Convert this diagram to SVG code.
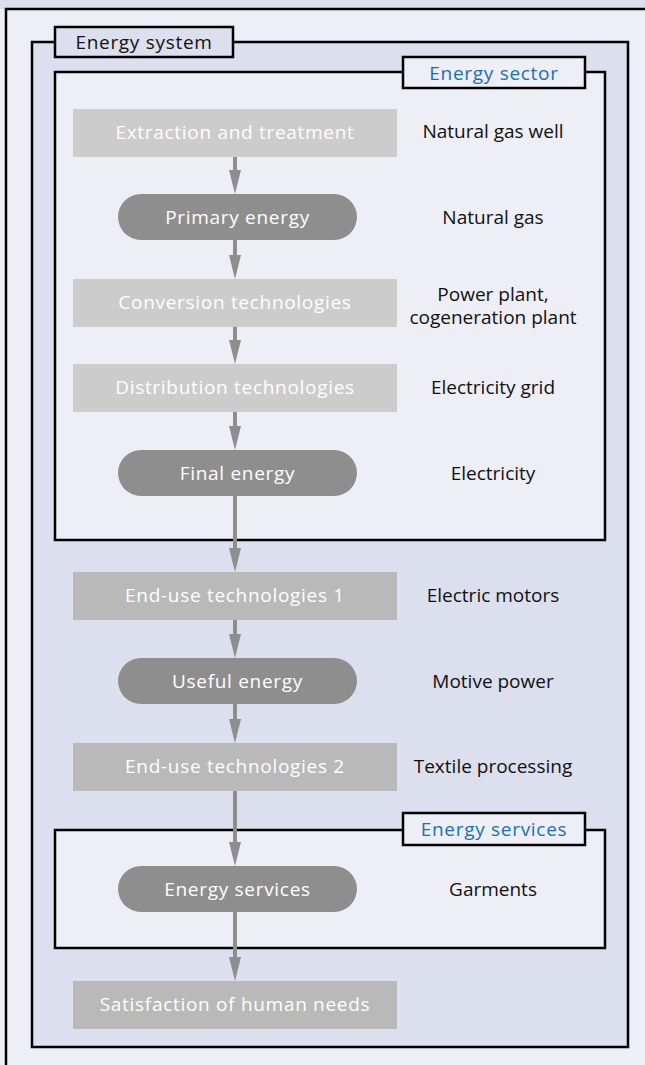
<svg xmlns="http://www.w3.org/2000/svg" width="645" height="1065" viewBox="0 0 645 1065">
<defs>
<style>
text{font-family:"Open Sans","Noto Sans","Liberation Sans",sans-serif;font-size:19px;text-anchor:middle}
.nt{fill:#ffffff;letter-spacing:0.7px}
.lt{fill:#111111}
.tt{fill:#111111;letter-spacing:0.7px}
.bt{fill:#1a70b5;letter-spacing:0.7px}
.r1{fill:#cccccc}
.r2{fill:#b9b9b9}
.pill{fill:#8e8e8e}
.tab{fill:#eeeef7;stroke:#000;stroke-width:2.5}
.conn line{stroke:#8e8e8e;stroke-width:4}
.conn path{fill:#8e8e8e}
</style>
</defs>
<rect x="0" y="0" width="645" height="1065" fill="#eeeef7"/>
<rect x="0" y="0" width="645" height="9" fill="#dcdfee"/>
<path d="M6,1065 V9 H645" fill="none" stroke="#000" stroke-width="2.5"/>

<g id="energy-system">
<rect x="32" y="42" width="596" height="1005" fill="#dcdfee" stroke="#000" stroke-width="2.5"/>
<rect class="tab" x="55" y="27" width="178" height="30" style="fill:#dcdfee"/>
<text class="tt" x="144" y="48.5">Energy system</text>
</g>

<g id="energy-sector">
<rect x="55" y="72" width="550" height="468" fill="#eeeef7" stroke="#000" stroke-width="2.5"/>
<rect class="tab" x="403" y="57" width="182" height="31"/>
<text class="bt" x="494" y="79.5">Energy sector</text>
</g>

<g id="energy-services-box">
<rect x="55" y="830" width="550" height="118" fill="#eeeef7" stroke="#000" stroke-width="2.5"/>
<rect class="tab" x="403" y="813" width="182" height="32"/>
<text class="bt" x="494" y="836">Energy services</text>
</g>

<g class="conn" id="connectors">
<line x1="235" y1="157" x2="235" y2="172"/><path d="M229,170 L235,194 L241,170 Z"/>
<line x1="235" y1="240" x2="235" y2="257"/><path d="M229,255 L235,279 L241,255 Z"/>
<line x1="235" y1="327" x2="235" y2="342"/><path d="M229,340 L235,364 L241,340 Z"/>
<line x1="235" y1="412" x2="235" y2="428"/><path d="M229,426 L235,450 L241,426 Z"/>
<line x1="235" y1="496" x2="235" y2="550"/><path d="M229,548 L235,572 L241,548 Z"/>
<line x1="235" y1="620" x2="235" y2="636"/><path d="M229,634 L235,658 L241,634 Z"/>
<line x1="235" y1="704" x2="235" y2="721"/><path d="M229,719 L235,743 L241,719 Z"/>
<line x1="235" y1="791" x2="235" y2="844"/><path d="M229,842 L235,866 L241,842 Z"/>
<line x1="235" y1="912" x2="235" y2="959"/><path d="M229,957 L235,981 L241,957 Z"/>
</g>

<g id="extraction"><rect class="r1" x="73" y="109" width="324" height="48"/><text class="nt" x="235" y="139">Extraction and treatment</text><text class="lt" x="493" y="138">Natural gas well</text></g>
<g id="primary"><rect class="pill" x="118" y="194" width="239" height="46" rx="23"/><text class="nt" x="237.5" y="223.5">Primary energy</text><text class="lt" x="493" y="223.5">Natural gas</text></g>
<g id="conversion"><rect class="r1" x="73" y="279" width="324" height="48"/><text class="nt" x="235" y="309">Conversion technologies</text><text class="lt" x="493" y="301">Power plant,<tspan x="493" dy="23">cogeneration plant</tspan></text></g>
<g id="distribution"><rect class="r1" x="73" y="364" width="324" height="48"/><text class="nt" x="235" y="394">Distribution technologies</text><text class="lt" x="493" y="394">Electricity grid</text></g>
<g id="final"><rect class="pill" x="118" y="450" width="239" height="46" rx="23"/><text class="nt" x="237.5" y="479.5">Final energy</text><text class="lt" x="493" y="479.5">Electricity</text></g>
<g id="enduse1"><rect class="r2" x="73" y="572" width="324" height="48"/><text class="nt" x="235" y="602">End-use technologies 1</text><text class="lt" x="493" y="602">Electric motors</text></g>
<g id="useful"><rect class="pill" x="118" y="658" width="239" height="46" rx="23"/><text class="nt" x="237.5" y="687.5">Useful energy</text><text class="lt" x="493" y="687.5">Motive power</text></g>
<g id="enduse2"><rect class="r2" x="73" y="743" width="324" height="48"/><text class="nt" x="235" y="773">End-use technologies 2</text><text class="lt" x="493" y="773">Textile processing</text></g>
<g id="services"><rect class="pill" x="118" y="866" width="239" height="46" rx="23"/><text class="nt" x="237.5" y="895.5">Energy services</text><text class="lt" x="493" y="895.5">Garments</text></g>
<g id="satisfaction"><rect class="r2" x="73" y="981" width="324" height="48"/><text class="nt" x="235" y="1011">Satisfaction of human needs</text></g>
</svg>
